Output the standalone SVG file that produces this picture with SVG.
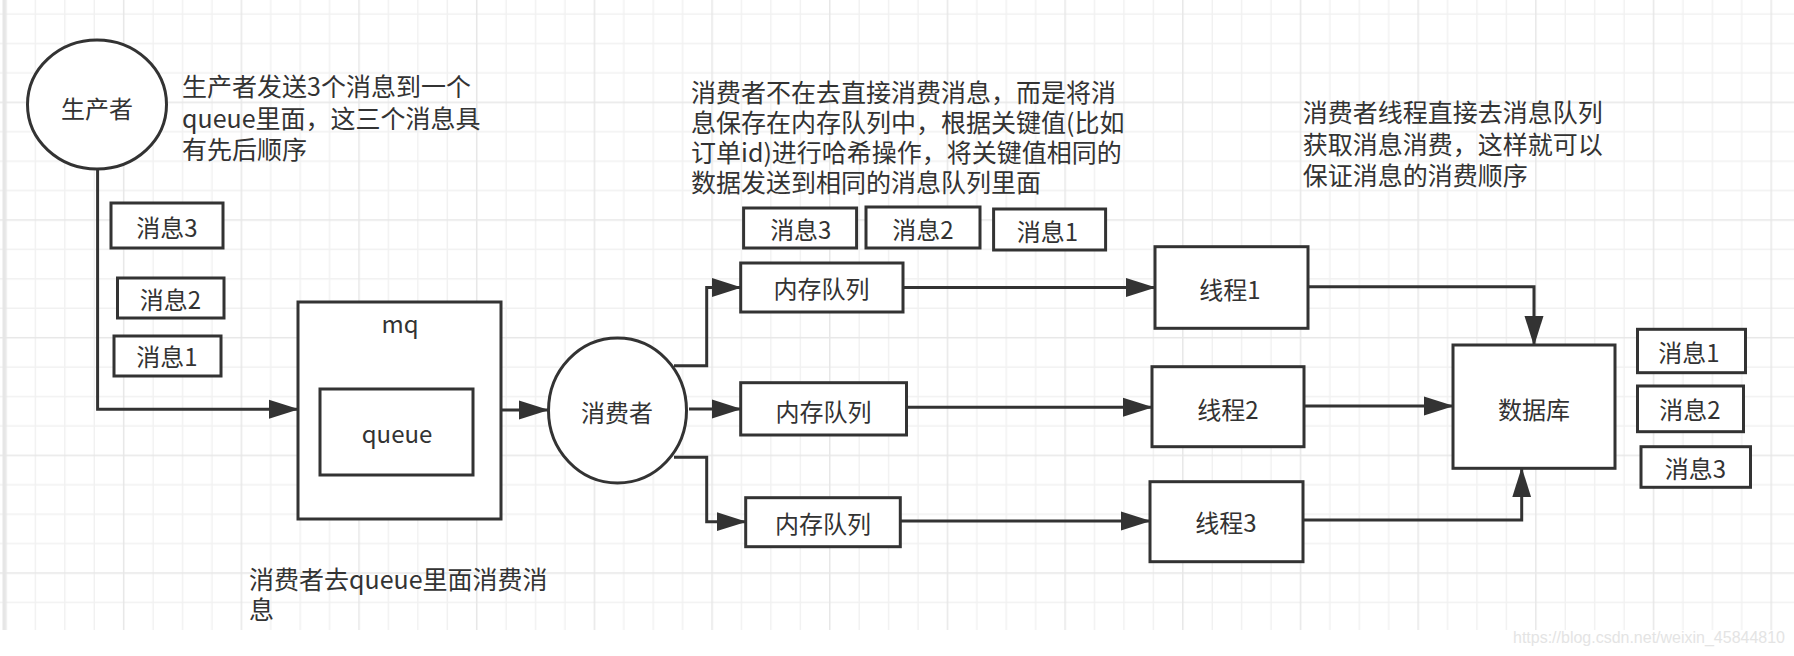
<svg xmlns="http://www.w3.org/2000/svg" width="1794" height="656" viewBox="0 0 1794 656">
<defs>
<pattern id="grid" patternUnits="userSpaceOnUse" x="5.25" y="-16.1" width="117.68" height="117.68">
<path d="M30.17,0V117.68M59.59,0V117.68M89.01,0V117.68M0,30.17H117.68M0,59.59H117.68M0,89.01H117.68" stroke="#f1f1f1" stroke-width="1.4" fill="none"/>
<path d="M0.75,0V117.68M0,0.75H117.68" stroke="#e7e7e7" stroke-width="1.5" fill="none"/>
</pattern>
<marker id="arr" markerUnits="userSpaceOnUse" viewBox="0 0 30 20" markerWidth="30" markerHeight="20" refX="29" refY="10" orient="auto">
<path d="M0,0.5 L30,10 L0,19.5 Z" fill="#333"/>
</marker>
<style>
.box{fill:#fff;stroke:#333;stroke-width:3}
.lbl{font-family:"Noto Sans CJK SC","Noto Sans",sans-serif;font-size:24px;fill:#333;text-anchor:middle;dominant-baseline:central}
.note{font-family:"Noto Sans CJK SC","Noto Sans",sans-serif;font-size:25px;fill:#333}
.con{fill:none;stroke:#333;stroke-width:3;marker-end:url(#arr)}
.wm{font-family:"Liberation Sans",Arial,sans-serif;font-size:16px;fill:#e4e4e4}
</style>
</defs>
<rect x="0" y="0" width="1794" height="656" fill="#fff"/>
<rect x="0" y="0" width="1794" height="630" fill="url(#grid)"/>
<line x1="4" y1="0" x2="4" y2="630" stroke="#e6e6e6" stroke-width="3"/>

<g id="connectors">
<path class="con" d="M97.6,169 V409.3 H298"/>
<path class="con" d="M501,410 H548"/>
<path class="con" d="M674,365.7 H706.7 V287.5 H740.7"/>
<path class="con" d="M689,409 H740.7"/>
<path class="con" d="M674,457.3 H706.7 V521.7 H745.7"/>
<path class="con" d="M903,287.5 H1155"/>
<path class="con" d="M906.5,407.3 H1152"/>
<path class="con" d="M900.3,521 H1150"/>
<path class="con" d="M1308,286.7 H1534 V345"/>
<path class="con" d="M1304,406 H1453"/>
<path class="con" d="M1303,520 H1521.7 V468.3"/>
</g>

<g id="producer">
<ellipse class="box" cx="97" cy="104.5" rx="69.5" ry="64.5"/>
<text class="lbl" x="97" y="107">生产者</text>
</g>
<g id="note-producer">
<text class="note"><tspan x="182" y="96">生产者发送3个消息到一个</tspan><tspan x="182" y="127.7">queue里面，这三个消息具</tspan><tspan x="182" y="159.4">有先后顺序</tspan></text>
</g>
<g id="msg3-left">
<rect class="box" x="111" y="203" width="112" height="45"/>
<text class="lbl" x="167" y="226">消息3</text>
</g>
<g id="msg2-left">
<rect class="box" x="117.5" y="278" width="106.5" height="40"/>
<text class="lbl" x="170.5" y="298">消息2</text>
</g>
<g id="msg1-left">
<rect class="box" x="114" y="336" width="107" height="40"/>
<text class="lbl" x="167" y="355.5">消息1</text>
</g>
<g id="mq">
<rect class="box" x="298" y="302" width="203" height="217"/>
<text class="lbl" x="400" y="322">mq</text>
</g>
<g id="queue">
<rect class="box" x="320" y="389" width="153" height="86"/>
<text class="lbl" x="397" y="432">queue</text>
</g>
<g id="note-mq">
<text class="note"><tspan x="249" y="589">消费者去queue里面消费消</tspan><tspan x="249" y="619">息</tspan></text>
</g>
<g id="consumer">
<ellipse class="box" cx="617.5" cy="410.5" rx="69" ry="72.5"/>
<text class="lbl" x="617" y="411">消费者</text>
</g>
<g id="note-consumer">
<text class="note"><tspan x="691" y="101.5">消费者不在去直接消费消息，而是将消</tspan><tspan x="691" y="131.5">息保存在内存队列中，根据关键值(比如</tspan><tspan x="691" y="161.5">订单id)进行哈希操作，将关键值相同的</tspan><tspan x="691" y="191.5">数据发送到相同的消息队列里面</tspan></text>
</g>
<g id="msg3-top">
<rect class="box" x="743.6" y="208" width="113" height="40"/>
<text class="lbl" x="800.8" y="228.3">消息3</text>
</g>
<g id="msg2-top">
<rect class="box" x="866" y="207" width="114" height="41"/>
<text class="lbl" x="923" y="228">消息2</text>
</g>
<g id="msg1-top">
<rect class="box" x="993.6" y="209" width="112" height="41"/>
<text class="lbl" x="1047.4" y="230">消息1</text>
</g>
<g id="memq1">
<rect class="box" x="740.7" y="263" width="162.3" height="49"/>
<text class="lbl" x="821.5" y="287.5">内存队列</text>
</g>
<g id="memq2">
<rect class="box" x="740.7" y="382.7" width="165.8" height="52.3"/>
<text class="lbl" x="823.6" y="410.5">内存队列</text>
</g>
<g id="memq3">
<rect class="box" x="745.7" y="497.7" width="154.6" height="49"/>
<text class="lbl" x="823" y="522.5">内存队列</text>
</g>
<g id="thread1">
<rect class="box" x="1155" y="246.7" width="153" height="81.6"/>
<text class="lbl" x="1230" y="288">线程1</text>
</g>
<g id="thread2">
<rect class="box" x="1152" y="366.7" width="152" height="80"/>
<text class="lbl" x="1228" y="408">线程2</text>
</g>
<g id="thread3">
<rect class="box" x="1150" y="481.7" width="153" height="80"/>
<text class="lbl" x="1226" y="521.5">线程3</text>
</g>
<g id="note-thread">
<text class="note"><tspan x="1302.8" y="122">消费者线程直接去消息队列</tspan><tspan x="1302.8" y="153.5">获取消息消费，这样就可以</tspan><tspan x="1302.8" y="185">保证消息的消费顺序</tspan></text>
</g>
<g id="database">
<rect class="box" x="1453" y="345" width="162" height="123.3"/>
<text class="lbl" x="1534" y="408">数据库</text>
</g>
<g id="msg1-right">
<rect class="box" x="1637.5" y="329.3" width="108" height="43.4"/>
<text class="lbl" x="1689" y="351.5">消息1</text>
</g>
<g id="msg2-right">
<rect class="box" x="1637.5" y="386" width="106" height="45.7"/>
<text class="lbl" x="1690" y="408.3">消息2</text>
</g>
<g id="msg3-right">
<rect class="box" x="1641" y="446.7" width="109.5" height="40.6"/>
<text class="lbl" x="1695.4" y="467.5">消息3</text>
</g>
<text class="wm" x="1513" y="643" textLength="272" lengthAdjust="spacingAndGlyphs">https://blog.csdn.net/weixin_45844810</text>
</svg>
